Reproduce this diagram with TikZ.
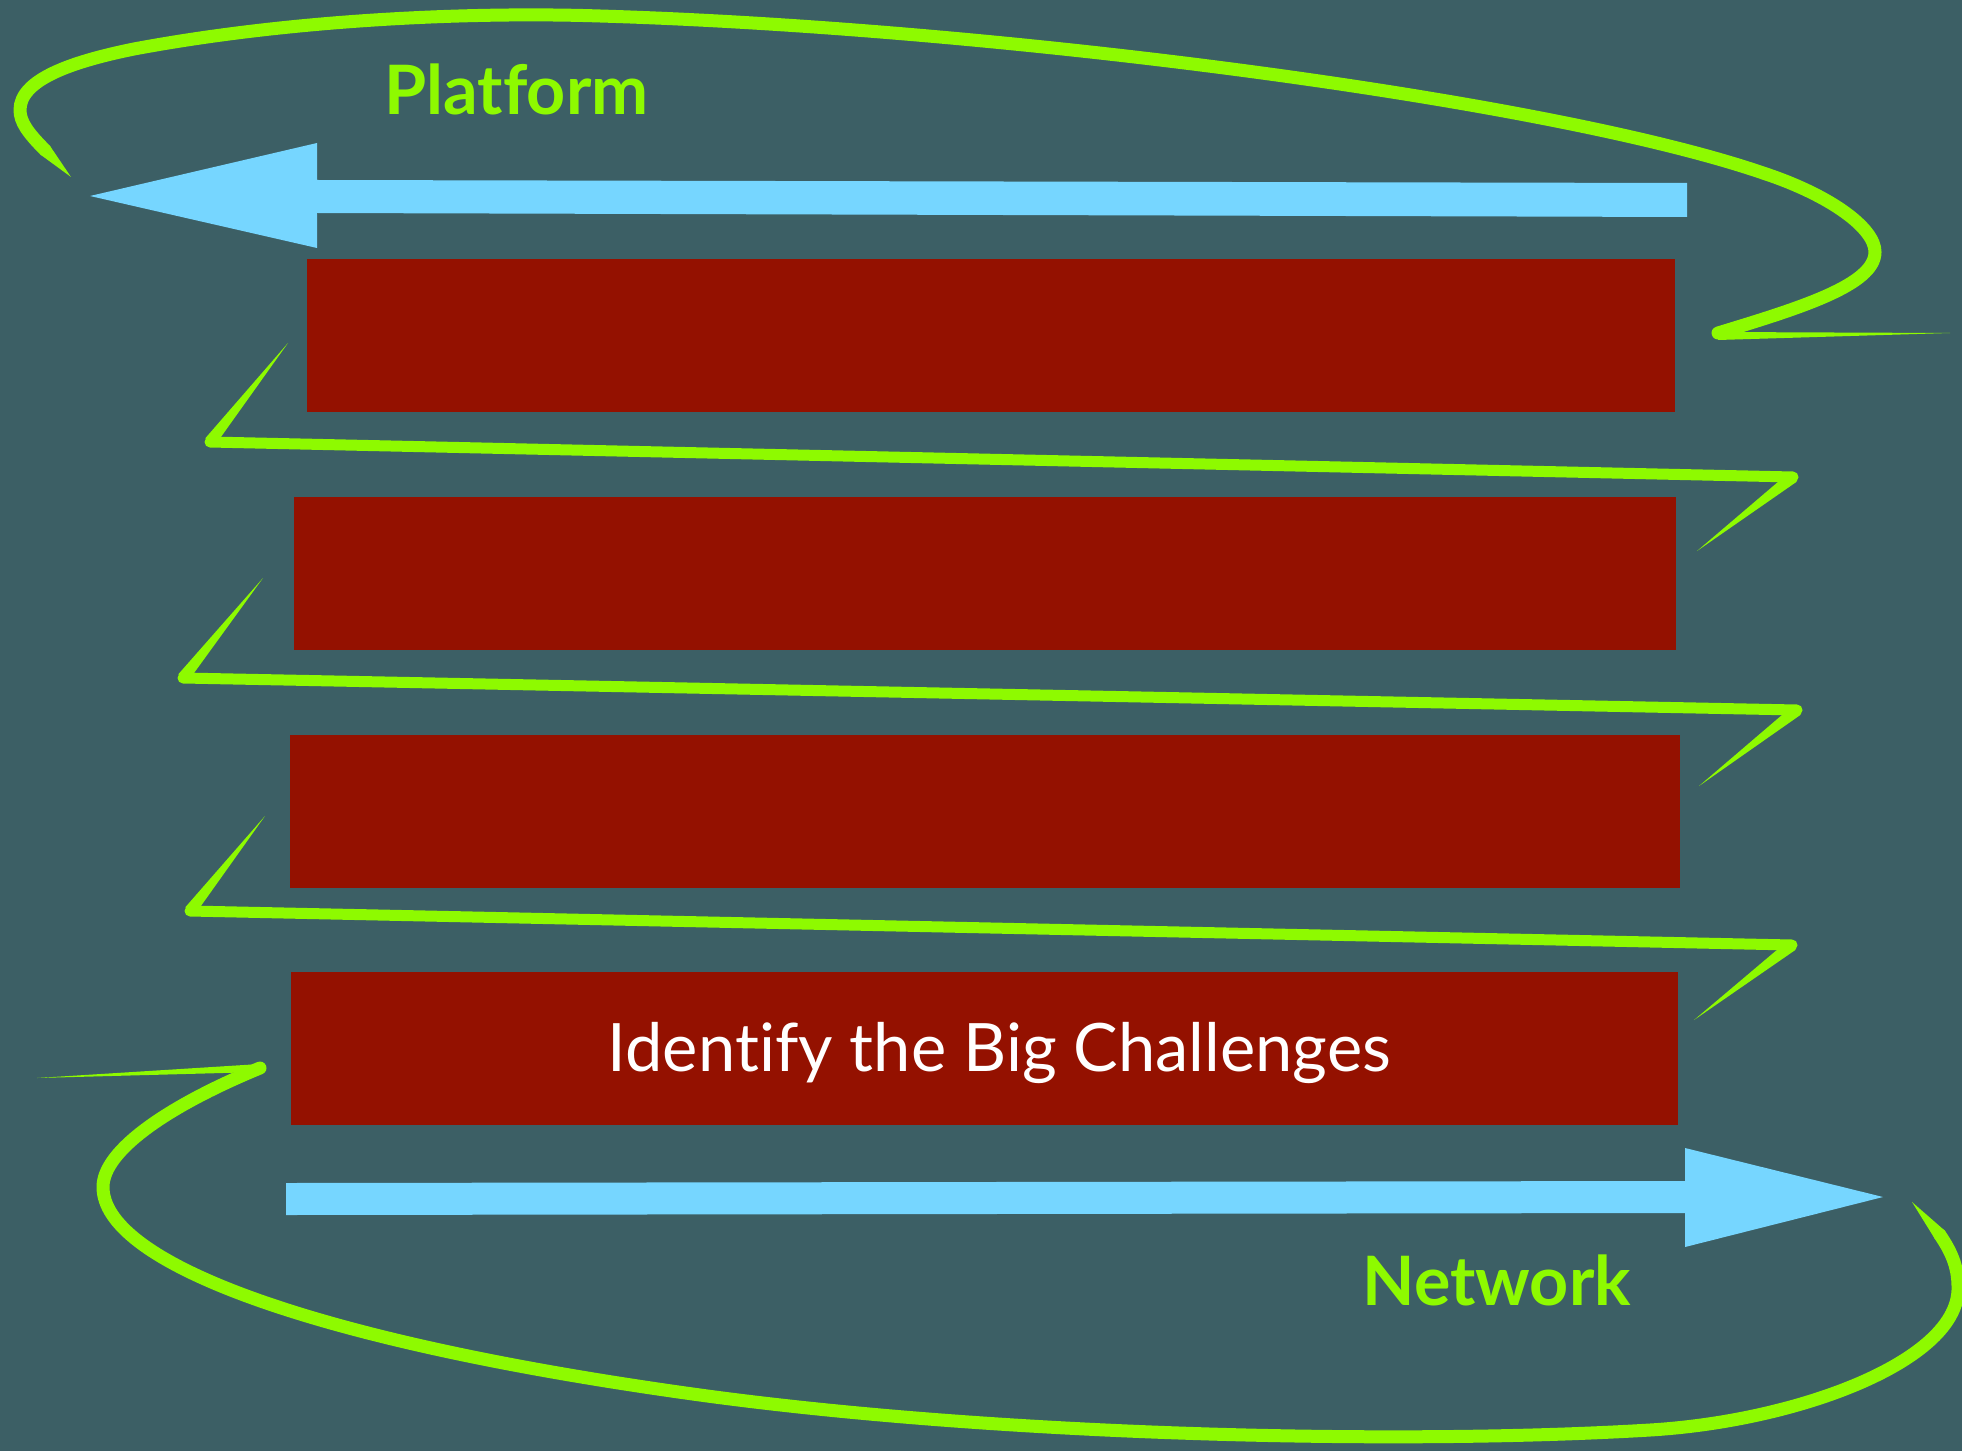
\documentclass[tikz,border=0pt]{standalone}
\usepackage{fontspec}
\usepackage{tikz}
\usetikzlibrary{calc}
\setsansfont{Lato}[Ligatures={NoCommon,NoRare}]

\definecolor{slate}{HTML}{3C5F65}
\definecolor{cayenne}{HTML}{941100}
\definecolor{sky}{HTML}{76D6FF}
\definecolor{lime}{HTML}{8EFA00}

\tikzset{
  stage/.style={fill=cayenne, inner sep=0pt, minimum height=15.3mm},
  flow/.style={fill=sky},
  brush/.style={lime, line width=1.3mm, line cap=round, line join=round},
  tag/.style={lime, inner sep=0pt, anchor=base west,
    font=\sffamily\bfseries\fontsize{19.4}{22}\selectfont},
}
% thin point at #1, full width #3 at #2
\newcommand\taper[3]{\fill[lime] (#1) -- ($(#2)!#3!90:(#1)$) -- ($(#2)!#3!-90:(#1)$) -- cycle;}

\begin{document}
\begin{tikzpicture}[x=0.1mm, y=-0.1mm]
  \useasboundingbox (0,0) rectangle (1962,1451);
  \fill[slate] (0,0) rectangle (1962,1451);

  % the four stages
  \node[stage, minimum width=136.8mm] (s1) at (991,335.5) {}; %
  \node[stage, minimum width=138.2mm] (s2) at (985,573.5) {}; %
  \node[stage, minimum width=139mm] (s3) at (985,811) {}; %
  \node[stage, minimum width=138.7mm] (s4) at (984.5,1048.5) {}; %
  \node[white, inner sep=0pt, anchor=base,
    font=\sffamily\fontsize{19}{22}\selectfont] (chal) at (999.5,1071) {Identify the Big Challenges}; %

  % platform and network arrows
  \coordinate (pL) at (90,196);
  \coordinate (nR) at (1883,1197);
  \fill[flow] (pL) -- (317,143) -- (317,180) -- (1687,183) -- (1687,217) -- (317,213) -- (317,248) -- cycle; %
  \fill[flow] (nR) -- (1685,1148) -- (1685,1181) -- (286,1183) -- (286,1215) -- (1685,1213) -- (1685,1247) -- cycle; %

  \node[tag] (plat) at (384,115) {Platform}; %
  \node[tag] (net) at (1362,1305) {Network}; %

  % upper loop
  \draw[brush] (45,150) .. controls (28,133) and (20,122) .. (20,110)
    .. controls (20,80) and (70,62) .. (134,49)
    .. controls (300,18) and (480,12) .. (600,16)
    .. controls (1000,28) and (1550,100) .. (1763,173)
    .. controls (1830,195) and (1875,228) .. (1875,252)
    .. controls (1875,285) and (1800,308) .. (1718,333);
  \taper{71,177}{45,150}{0.65mm}
  \taper{1950,333}{1718,336}{0.4mm}

  % zigzag between the stages
  \foreach \sx/\sy/\lx/\ly/\rx/\ry/\ex/\ey in
    {288/343/210/442/1793/477/1697/551,
     263/578/183/678/1797/710/1699/786,
     265/816/190/911/1792/945/1694/1020}{
    \taper{\sx,\sy}{\lx,\ly}{0.6mm}
    \draw[brush, line width=1.1mm] (\lx,\ly) -- (\rx,\ry);
    \taper{\ex,\ey}{\rx,\ry}{0.6mm}
  }

  % lower loop
  \draw[brush] (260,1068) .. controls (170,1105) and (103,1150) .. (103,1187)
    .. controls (103,1260) and (300,1340) .. (700,1395)
    .. controls (1000,1436) and (1400,1445) .. (1650,1430)
    .. controls (1800,1421) and (1960,1360) .. (1958,1287)
    .. controls (1958,1265) and (1950,1250) .. (1940,1235);
  \taper{37,1078}{260,1068}{0.4mm}
  \taper{1912,1202}{1940,1235}{0.65mm}
\end{tikzpicture}
\end{document}
